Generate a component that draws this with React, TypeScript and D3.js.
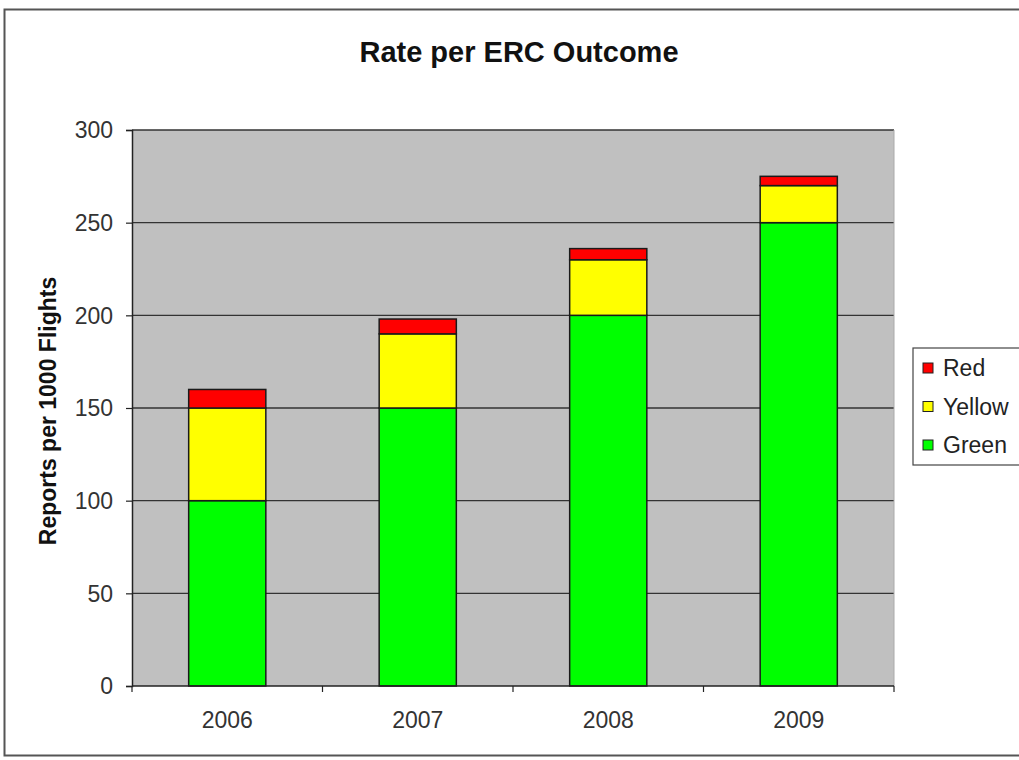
import { useRef, useEffect } from 'react'
import * as d3 from 'd3'

const years = ['2006', '2007', '2008', '2009']
const green = [100, 150, 200, 250]
const yellow = [50, 40, 30, 20]
const red = [10, 8, 6, 5]
const yTicks = [0, 50, 100, 150, 200, 250, 300]
const seriesNames = ['Green', 'Yellow', 'Red']
const seriesColors = ['#00ff00', '#ffff00', '#ff0000']

const width = 1019
const height = 760
const margin = { top: 130, right: 125, bottom: 74, left: 132 }
const font = 'Liberation Sans, Arial, sans-serif'

export default function App() {
	const x = d3.scaleBand(years, [margin.left, width - margin.right]).paddingInner(0.595).paddingOuter(0.2975)
	const y = d3.scaleLinear([0, 300], [height - margin.bottom, margin.top])

	const rows = years.map((yr, i) => ({ year: yr, Green: green[i], Yellow: yellow[i], Red: red[i] }))
	const stacked = d3.stack().keys(seriesNames)(rows as any)

	const gx = useRef(null)
	const gy = useRef(null)
	useEffect(() => {
		const ax = d3.select(gx.current)
		ax.selectAll('*').remove()
		const band = x.step()
		ax.append('line').attr('x1', margin.left).attr('x2', width - margin.right).attr('stroke', '#222').attr('stroke-width', 1.5)
		for (let i = 0; i <= years.length; i++) {
			const px = margin.left + i * band
			ax.append('line').attr('x1', px).attr('x2', px).attr('y1', 0).attr('y2', 6).attr('stroke', '#222').attr('stroke-width', 1.2)
		}
		years.forEach((yr) => {
			ax.append('text').attr('x', x(yr)! + x.bandwidth() / 2).attr('y', 42)
				.attr('text-anchor', 'middle').attr('font-size', 23).attr('fill', '#333').attr('font-family', font).text(yr)
		})
	}, [gx])
	useEffect(() => {
		const ay = d3.select(gy.current)
		ay.call(d3.axisLeft(y).tickValues(yTicks).tickSize(6).tickPadding(13) as any)
		ay.select('.domain').attr('stroke', '#222').attr('stroke-width', 1.5)
		ay.selectAll('.tick line').attr('stroke', '#222').attr('stroke-width', 1.2)
		ay.selectAll('.tick text').attr('font-size', 23).attr('fill', '#333').attr('font-family', font).attr('dy', '0.34em')
	}, [gy])

	return (
		<svg width={width} height={height} style={{ position: 'absolute', left: 0, top: 0, background: '#fff' }}
			fontFamily={font}>
			<rect x={4.5} y={9.5} width={width + 10} height={746} fill="none" stroke="#555" strokeWidth={2} />
			<text x={519} y={62} textAnchor="middle" fontSize={29} fontWeight="bold" fill="#111">Rate per ERC Outcome</text>
			<rect x={margin.left} y={margin.top} width={width - margin.left - margin.right} height={height - margin.top - margin.bottom} fill="#c0c0c0" />
			<g>
				{yTicks.filter((t) => t > 0).map((t) => (
					<line key={t} x1={margin.left} x2={width - margin.right} y1={y(t)} y2={y(t)} stroke="#333" strokeWidth={1.3} />
				))}
			</g>
			<line x1={width - margin.right} x2={width - margin.right} y1={margin.top} y2={height - margin.bottom} stroke="#aaa" strokeWidth={1} />
			<g stroke="#1a1a1a" strokeWidth={1.5}>
				{stacked.map((s, si) => s.map((d, i) => (
					<rect key={`${si}-${i}`} x={x(years[i])} y={y(d[1])} width={x.bandwidth()} height={y(d[0]) - y(d[1])} fill={seriesColors[si]} />
				)))}
			</g>
			<g ref={gx} transform={`translate(0,${height - margin.bottom})`} />
			<g ref={gy} transform={`translate(${margin.left},0)`} />
			<text transform={`translate(56,411) rotate(-90)`} textAnchor="middle"
				fontSize={23} fontWeight="bold" fill="#111">Reports per 1000 Flights</text>
			<g>
				<rect x={913} y={348} width={120} height={117} fill="#fff" stroke="#444" strokeWidth={1.2} />
				{[2, 1, 0].map((si, k) => (
					<g key={si} transform={`translate(923,${368 + k * 38.5})`}>
						<rect x={0} y={-5} width={10} height={10} fill={seriesColors[si]} stroke="#222" strokeWidth={1} />
						<text x={20} y={8} fontSize={23} fill="#222">{seriesNames[si]}</text>
					</g>
				))}
			</g>
		</svg>
	)
}
